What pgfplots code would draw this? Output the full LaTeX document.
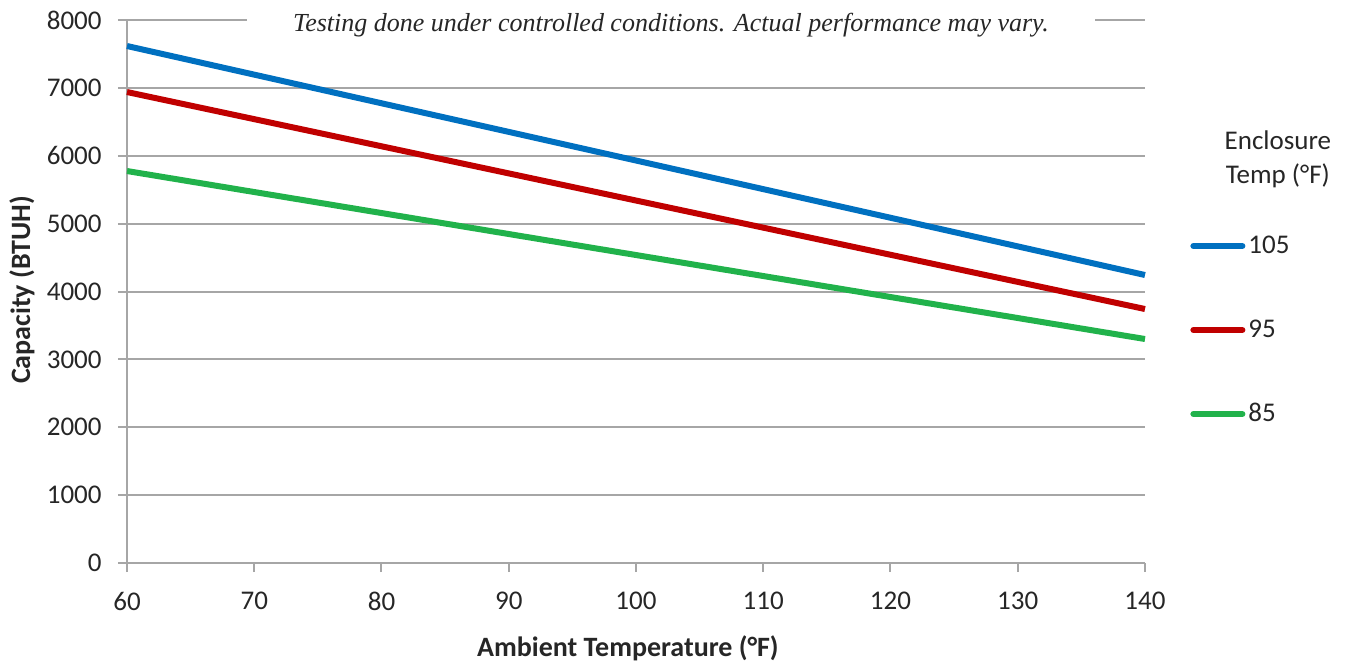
\documentclass[border=0pt]{standalone}
\usepackage{fontspec}
\setmainfont{Carlito}
\newfontfamily\titlefont{Liberation Serif}
\usepackage{pgfplots}
\pgfplotsset{compat=1.18}
\definecolor{sblue}{HTML}{0070C0}
\definecolor{sred}{HTML}{C00000}
\definecolor{sgreen}{HTML}{21B24B}
\definecolor{gridgray}{HTML}{A6A6A6}
\definecolor{txt}{HTML}{262626}
\begin{document}
\begin{tikzpicture}
\useasboundingbox (-63.5bp,-50.5bp) rectangle (610.5bp,281.5bp);
\begin{axis}[
  scale only axis, width=509bp, height=271.5bp,
  clip=false,
  xmin=60, xmax=140, ymin=0, ymax=8000,
  xtick={60,70,...,140}, ytick={0,1000,...,8000},
  axis lines*=left,
  axis line style={gridgray, line width=1bp},
  tick align=outside, major tick length=4.5bp,
  tick style={gridgray, line width=1bp},
  ymajorgrids, grid style={gridgray, line width=1bp},
  /pgf/number format/assume math mode=true,
  /pgf/number format/1000 sep={},
  ticklabel style={font=\fontsize{13.5bp}{15bp}\selectfont, text=txt, inner sep=0pt},
  xticklabel style={yshift=-10bp},
  yticklabel style={xshift=-8bp},
  xlabel={\textbf{Ambient Temperature (°F)}},
  ylabel={\textbf{Capacity (BTUH)}},
  every axis x label/.style={at={(axis description cs:0.4921,-0.1565)}, anchor=center, font=\fontsize{14bp}{16bp}\selectfont, text=txt},
  every axis y label/.style={at={(axis description cs:-0.1031,0.5028)}, anchor=center, rotate=90, font=\fontsize{14bp}{16bp}\selectfont, text=txt},
  legend style={at={(axis description cs:1.0442,0.4291)}, anchor=west, draw=none, fill=none, inner sep=0pt,
    font=\fontsize{13.5bp}{15bp}\selectfont, text=txt, row sep=29bp, column sep=1.5bp,
    nodes={inner sep=0pt, text height=10bp, text depth=3bp}},
  legend cell align=left,
  legend image code/.code={\draw[#1, line cap=round] (1.5bp,0bp) -- (26bp,0bp);},
]
\addplot[sblue, line width=3bp] coordinates {(60,7617) (140,4243)};
\addplot[sred, line width=3bp] coordinates {(60,6939) (140,3742)};
\addplot[sgreen, line width=3bp] coordinates {(60,5775) (140,3300)};
\legend{105,95,85}
\node[fill=white, inner xsep=0pt, inner ysep=3bp, minimum width=424bp, anchor=base,
  font=\titlefont\itshape\fontsize{13bp}{15bp}\selectfont, text=txt]
  at ([yshift=-5.8bp]axis cs:102.75,8000) {Testing done under controlled conditions. Actual performance may vary.};
\node[align=center, font=\fontsize{13.5bp}{17bp}\selectfont, text=txt]
  at (axis description cs:1.1306,0.744) {Enclosure\\Temp (°F)};
\end{axis}
\end{tikzpicture}
\end{document}
